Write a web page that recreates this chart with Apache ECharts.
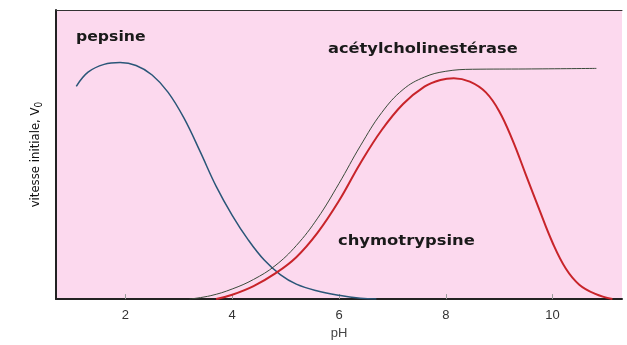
<!DOCTYPE html>
<html><head><meta charset="utf-8">
<script src="https://cdn.jsdelivr.net/npm/echarts@6/dist/echarts.min.js"></script>
<style>html,body{margin:0;padding:0;background:#fff}#c{width:627px;height:345px}</style>
</head><body><div id="c"></div>
<script>
const xTicks = [2, 4, 6, 8, 10];
const pepsine = [[1.08,73.6],[1.3,78.5],[1.6,81.2],[1.9,81.8],[2.2,80.8],[2.5,77.5],[2.8,71.5],[3.1,62.5],[3.4,51],[3.7,39],[4.0,29],[4.3,20.5],[4.6,13.5],[4.9,8.5],[5.2,5.2],[5.6,2.8],[6.0,1.3],[6.4,0.3],[6.7,0]];
const acetyl = [[3.2,0],[3.6,1.2],[4.0,3.5],[4.4,6.8],[4.8,11.5],[5.2,18.5],[5.6,28],[6.0,40],[6.4,53],[6.8,64.5],[7.2,72.5],[7.6,76.8],[8.0,78.8],[8.5,79.5],[9.5,79.6],[10.82,79.8]];
const chymo = [[3.7,0],[4.0,1.5],[4.4,4.5],[4.8,8.8],[5.2,14.5],[5.6,23],[6.0,34],[6.4,47],[6.8,58.5],[7.2,67.5],[7.6,73.5],[7.9,75.8],[8.15,76.4],[8.45,75.2],[8.75,71.5],[9.0,65],[9.25,55],[9.5,43],[9.75,31],[10.0,19.5],[10.25,10.5],[10.5,5],[10.8,1.8],[11.12,0]];
const labels = {pepsine:'pepsine', acetyl:'acétylcholinestérase', chymo:'chymotrypsine'};

const chart = echarts.init(document.getElementById('c'));
const lblFont = {fontFamily:'DejaVu Sans', fontWeight:'bold', fontSize:14, fill:'#1a1a1a'};
chart.setOption({
  animation:false,
  grid:{left:56, top:10, right:5, bottom:43, show:true, backgroundColor:'#fcd9ee', borderWidth:0},
  xAxis:[{
    type:'value', min:0.7, max:11.3, position:'bottom',
    axisLine:{show:true, onZero:false, lineStyle:{color:'#222', width:2}},
    axisTick:{show:true, inside:true, length:5, customValues:xTicks, lineStyle:{color:'#999'}},
    axisLabel:{show:true, customValues:xTicks, margin:10, color:'#333', fontFamily:'Liberation Sans', fontSize:13},
    splitLine:{show:false},
    name:'pH', nameLocation:'middle', nameGap:27, nameTextStyle:{color:'#444', fontFamily:'Liberation Sans', fontSize:13}
  },{
    type:'value', min:0.7, max:11.3, position:'top',
    axisLine:{show:true, onZero:false, lineStyle:{color:'#333', width:1}},
    axisTick:{show:false}, axisLabel:{show:false}, splitLine:{show:false}
  }],
  yAxis:{
    type:'value', min:0, max:100,
    axisLine:{show:true, onZero:false, lineStyle:{color:'#222', width:2}},
    axisTick:{show:false}, axisLabel:{show:false}, splitLine:{show:false},
    name:'{a|vitesse initiale, V}{s|0}', nameLocation:'middle', nameGap:12,
    nameTextStyle:{rich:{a:{fontFamily:'DejaVu Sans Condensed', fontSize:13, color:'#111'}, s:{fontFamily:'DejaVu Sans Condensed', fontSize:10, color:'#111', verticalAlign:'bottom', padding:[6,0,0,0]}}}
  },
  series:[
    {type:'line', name:labels.pepsine, data:pepsine, smooth:0.4, showSymbol:false, lineStyle:{color:'#2a5678', width:1.5}},
    {type:'line', name:labels.acetyl, data:acetyl, smooth:0.4, showSymbol:false, lineStyle:{color:'#3a4a3a', width:1}},
    {type:'line', name:labels.chymo, data:chymo, smooth:0.4, showSymbol:false, lineStyle:{color:'#c8242a', width:2}}
  ],
  graphic:[
    {type:'text', left:76, top:30, scaleX:1.12, style:Object.assign({text:labels.pepsine}, lblFont)},
    {type:'text', left:328, top:42, scaleX:1.16, style:Object.assign({text:labels.acetyl}, lblFont)},
    {type:'text', left:338, top:234, scaleX:1.17, style:Object.assign({text:labels.chymo}, lblFont)}
  ]
});
</script></body></html>
